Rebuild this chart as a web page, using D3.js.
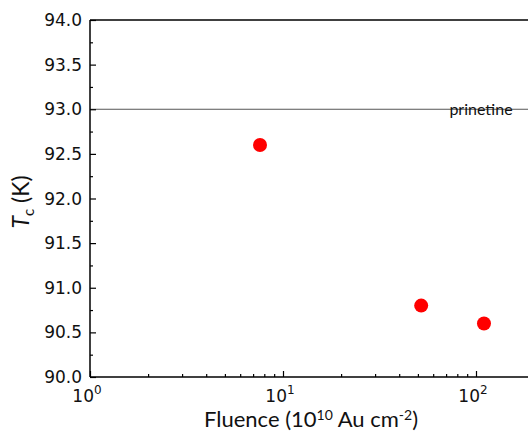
<!DOCTYPE html>
<html>
<head>
<meta charset="utf-8">
<script src="https://cdn.jsdelivr.net/npm/d3@7"></script>
<style>
  body { margin: 0; background: #fff; }
  svg { display: block; }
</style>
</head>
<body>
<svg id="chart" width="528" height="432"></svg>
<script>
// data
const fluence = [7.6, 52, 110];
const tc = [92.6, 90.8, 90.6];
const yTicks = [90.0, 90.5, 91.0, 91.5, 92.0, 92.5, 93.0, 93.5, 94.0];
const xDecades = [1, 10, 100];
const pristine = 93.0;

const width = 528, height = 432;
const margin = { top: 20, bottom: 55, left: 90 };

const svg = d3.select('#chart');

const x = d3.scaleLog()
  .domain([1, 300])
  .range([margin.left, margin.left + 193 * Math.log10(300)]);

const y = d3.scaleLinear()
  .domain([90, 94])
  .range([height - margin.bottom, margin.top]);

// pristine line
svg.append('line')
  .attr('x1', margin.left).attr('x2', width)
  .attr('y1', y(pristine)).attr('y2', y(pristine))
  .attr('stroke', '#555').attr('stroke-width', 1);

svg.append('text')
  .attr('x', 481).attr('y', y(pristine) + 6)
  .attr('text-anchor', 'middle')
  .attr('font-family', 'Lato, "Open Sans", sans-serif')
  .attr('font-size', 16)
  .attr('fill', '#111')
  .text('prinetine');

// top frame line
svg.append('line')
  .attr('x1', margin.left).attr('x2', width)
  .attr('y1', y(94)).attr('y2', y(94))
  .attr('stroke', '#000').attr('stroke-width', 1.3);

// y axis
const yMinor = d3.range(90.25, 94, 0.5);
const yAxis = svg.append('g').attr('transform', `translate(${margin.left},0)`);
yAxis.append('g')
  .call(d3.axisRight(y).tickValues(yMinor).tickSize(3).tickFormat(''))
  .call(g => g.select('.domain').remove());
yAxis.append('g')
  .call(d3.axisRight(y).tickValues(yTicks).tickSize(6).tickFormat(''))
  .call(g => g.select('.domain').remove());
yAxis.selectAll('.tick line').attr('stroke', '#000').attr('stroke-width', 1.2);
yAxis.append('line')
  .attr('y1', y(90)).attr('y2', y(94))
  .attr('stroke', '#000').attr('stroke-width', 1.5);
yAxis.selectAll('text.lab')
  .data(yTicks)
  .join('text')
  .attr('class', 'lab')
  .attr('x', -8)
  .attr('y', d => y(d) + 6)
  .attr('text-anchor', 'end')
  .attr('font-family', '"DejaVu Sans", sans-serif')
  .attr('font-size', 17)
  .attr('fill', '#111')
  .text(d => d.toFixed(1));

// x axis
const xMinor = [];
[1, 10, 100].forEach(b => { for (let k = 2; k <= 9; k++) if (b * k <= 300) xMinor.push(b * k); });
const xAxis = svg.append('g').attr('transform', `translate(0,${y(90)})`);
xAxis.append('g')
  .call(d3.axisTop(x).tickValues(xMinor).tickSize(3).tickFormat(''))
  .call(g => g.select('.domain').remove());
xAxis.append('g')
  .call(d3.axisTop(x).tickValues(xDecades).tickSize(6).tickFormat(''))
  .call(g => g.select('.domain').remove());
xAxis.selectAll('.tick line').attr('stroke', '#000').attr('stroke-width', 1.2);
xAxis.append('line')
  .attr('x1', margin.left).attr('x2', width)
  .attr('stroke', '#000').attr('stroke-width', 1.5);

const xl = xAxis.selectAll('text.lab')
  .data(xDecades)
  .join('text')
  .attr('class', 'lab')
  .attr('x', d => x(d) - 3)
  .attr('y', 25)
  .attr('text-anchor', 'middle')
  .attr('font-family', '"DejaVu Sans", sans-serif')
  .attr('font-size', 17)
  .attr('fill', '#111');
xl.append('tspan').text('10');
xl.append('tspan').attr('dy', -8).attr('font-size', 12).text((d, i) => i);

// points
svg.append('g')
  .selectAll('circle')
  .data(fluence)
  .join('circle')
  .attr('cx', d => x(d))
  .attr('cy', (d, i) => y(tc[i]))
  .attr('r', 7)
  .attr('fill', '#ff0000');

// axis titles
const xt = svg.append('text')
  .attr('x', 311).attr('y', 427)
  .attr('text-anchor', 'middle')
  .attr('font-family', 'Lato, "Open Sans", sans-serif')
  .attr('font-size', 22)
  .attr('fill', '#111');
xt.append('tspan').text('Fluence (10');
xt.append('tspan').attr('dy', -7).attr('font-size', 14).text('10');
xt.append('tspan').attr('dy', 7).text(' Au cm');
xt.append('tspan').attr('dy', -7).attr('font-size', 14).text('-2');
xt.append('tspan').attr('dy', 7).text(')');

const yt = svg.append('text')
  .attr('transform', 'translate(29,202) rotate(-90)')
  .attr('text-anchor', 'middle')
  .attr('font-family', 'Lato, "Open Sans", sans-serif')
  .attr('font-size', 23)
  .attr('fill', '#111');
yt.append('tspan').attr('font-style', 'italic').text('T');
yt.append('tspan').attr('dy', 5).attr('font-size', 15).text('c');
yt.append('tspan').attr('dy', -5).text(' (K)');
</script>
</body>
</html>
